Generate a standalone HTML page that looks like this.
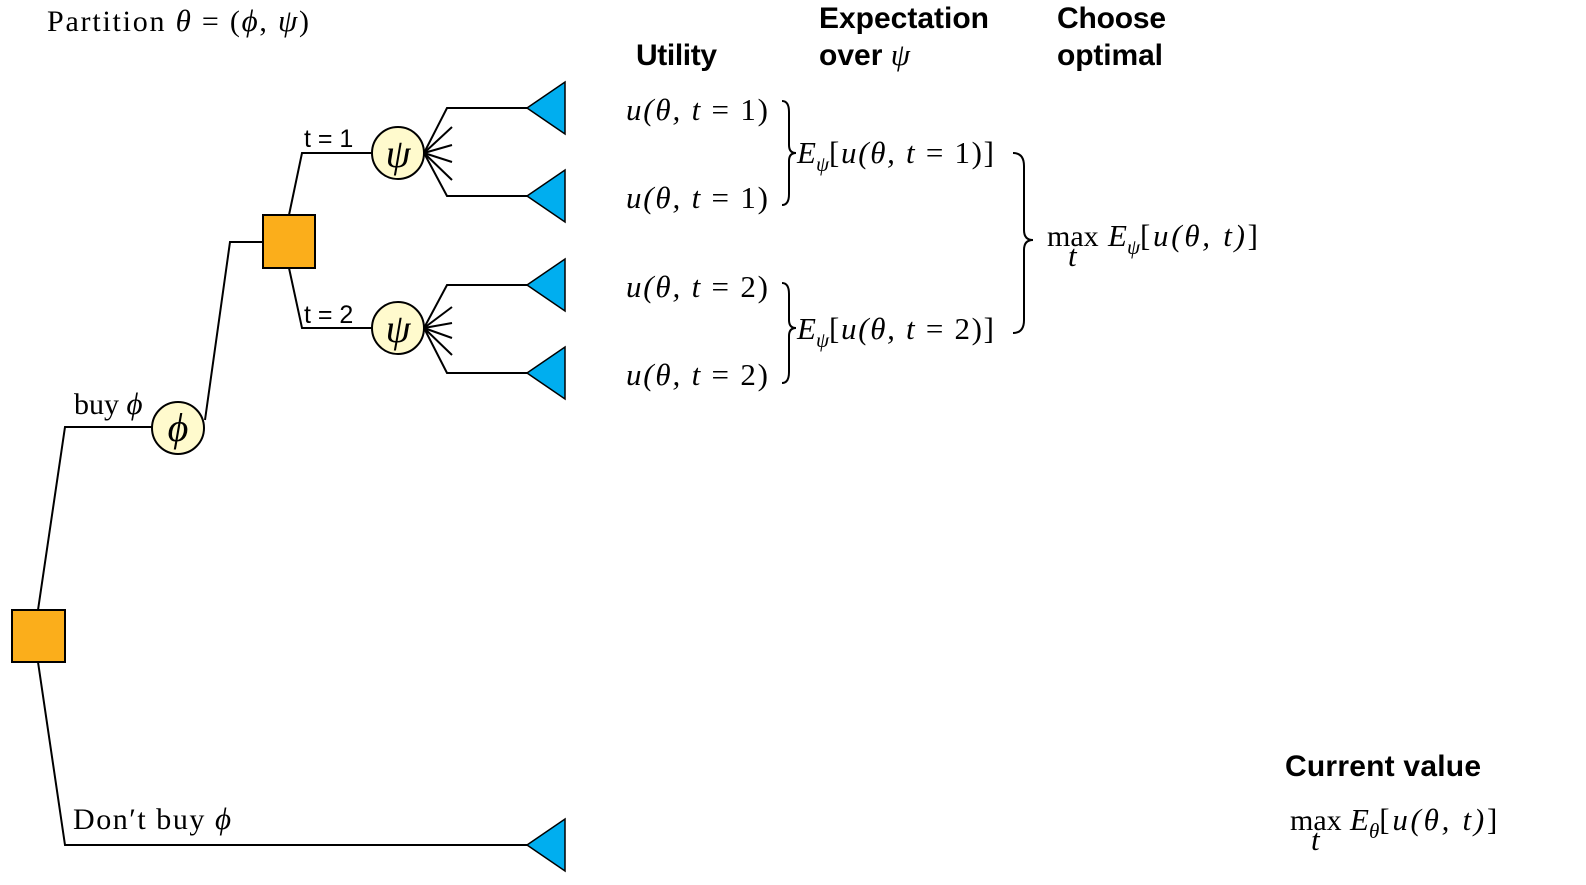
<!DOCTYPE html>
<html><head><meta charset="utf-8"><style>
html,body{margin:0;padding:0;background:#fff;}
svg{display:block}
.m{font-family:"Liberation Serif",serif;font-style:italic;font-size:31px;fill:#000}
.r{font-family:"Liberation Serif",serif;font-size:30px;fill:#000}
.h{font-family:"Liberation Sans",sans-serif;font-weight:bold;font-size:30px;fill:#000}
.s{font-family:"Liberation Sans",sans-serif;font-size:25px;fill:#000}
</style></head><body>
<svg width="1586" height="885" viewBox="0 0 1586 885">
<g stroke="#000" stroke-width="2" fill="none">
<polyline points="38,610 65,427 155,427"/>
<polyline points="38,662 65,845 527,845"/>
<polyline points="205,420 230,242 263,242"/>
<polyline points="289,215 302,153 372,153"/>
<polyline points="289,268 302,328 372,328"/>
<polyline points="424,153 447,108 527,108"/>
<polyline points="424,153 447,196 527,196"/>
<line x1="424" y1="153" x2="452" y2="127"/><line x1="424" y1="153" x2="452" y2="145"/>
<line x1="424" y1="153" x2="452" y2="162"/><line x1="424" y1="153" x2="452" y2="180"/>
<polyline points="424,328 447,285 527,285"/>
<polyline points="424,328 447,373 527,373"/>
<line x1="424" y1="328" x2="452" y2="307"/><line x1="424" y1="328" x2="452" y2="323"/>
<line x1="424" y1="328" x2="452" y2="338"/><line x1="424" y1="328" x2="452" y2="355"/>
</g>
<rect x="12" y="610" width="53" height="52" fill="#FBAE1B" stroke="#000" stroke-width="2"/>
<rect x="263" y="215" width="52" height="53" fill="#FBAE1B" stroke="#000" stroke-width="2"/>
<circle cx="178" cy="428" r="26" fill="#FFFACD" stroke="#000" stroke-width="2"/>
<text x="178" y="441" class="m" text-anchor="middle" style="font-size:40px">ϕ</text>
<circle cx="398" cy="153" r="26" fill="#FFFACD" stroke="#000" stroke-width="2"/>
<text x="398" y="167" class="m" text-anchor="middle" style="font-size:40px">ψ</text>
<circle cx="398" cy="328" r="26" fill="#FFFACD" stroke="#000" stroke-width="2"/>
<text x="398" y="342" class="m" text-anchor="middle" style="font-size:40px">ψ</text>
<g fill="#00AEEF" stroke="#000" stroke-width="1.5">
<polygon points="527,108 565,82 565,134"/>
<polygon points="527,196 565,170 565,222"/>
<polygon points="527,285 565,259 565,311"/>
<polygon points="527,373 565,347 565,399"/>
<polygon points="527,845 565,819 565,871"/>
</g>
<text x="47" y="31" class="r" textLength="262" lengthAdjust="spacing">Partition <tspan class="m">θ</tspan> = (<tspan class="m">ϕ</tspan>, <tspan class="m">ψ</tspan>)</text>
<text x="74" y="414" class="r">buy <tspan class="m">ϕ</tspan></text>
<text x="73" y="829" class="r" textLength="158" lengthAdjust="spacing">Don′t buy <tspan class="m">ϕ</tspan></text>
<text x="304" y="147" class="s">t = 1</text>
<text x="304" y="323" class="s">t = 2</text>
<text x="636" y="65" class="h" textLength="81">Utility</text>
<text x="819" y="28" class="h" textLength="170">Expectation</text>
<text x="819" y="65" class="h">over <tspan class="m" font-weight="normal">ψ</tspan></text>
<text x="1057" y="28" class="h" textLength="109">Choose</text>
<text x="1057" y="65" class="h" textLength="106">optimal</text>
<text x="1285" y="776" class="h" textLength="196">Current value</text>
<g>
<text x="626" y="120" class="m" textLength="142" lengthAdjust="spacing">u(θ, t <tspan font-style="normal">= 1)</tspan></text>
<text x="626" y="208" class="m" textLength="142" lengthAdjust="spacing">u(θ, t <tspan font-style="normal">= 1)</tspan></text>
<text x="626" y="297" class="m" textLength="142" lengthAdjust="spacing">u(θ, t <tspan font-style="normal">= 2)</tspan></text>
<text x="626" y="385" class="m" textLength="142" lengthAdjust="spacing">u(θ, t <tspan font-style="normal">= 2)</tspan></text>
</g>
<text x="797" y="163" class="m">E<tspan font-size="21" dy="8">ψ</tspan><tspan dy="-8" font-style="normal" textLength="165" lengthAdjust="spacing">[<tspan font-style="italic">u(θ, t</tspan> = 1)]</tspan></text>
<text x="797" y="339" class="m">E<tspan font-size="21" dy="8">ψ</tspan><tspan dy="-8" font-style="normal" textLength="165" lengthAdjust="spacing">[<tspan font-style="italic">u(θ, t</tspan> = 2)]</tspan></text>
<g>
<text x="1047" y="246" class="r">max</text><text x="1068" y="266" class="m" font-size="21">t</text>
<text x="1108" y="246" class="m">E<tspan font-size="21" dy="8">ψ</tspan><tspan dy="-8" font-style="normal" textLength="118" lengthAdjust="spacing">[<tspan font-style="italic">u(θ, t)</tspan>]</tspan></text>
</g>
<g>
<text x="1290" y="830" class="r">max</text><text x="1311" y="850" class="m" font-size="21">t</text>
<text x="1350" y="830" class="m">E<tspan font-size="21" dy="8">θ</tspan><tspan dy="-8" font-style="normal" textLength="118" lengthAdjust="spacing">[<tspan font-style="italic">u(θ, t)</tspan>]</tspan></text>
</g>
<g stroke="#000" stroke-width="2" fill="none">
<path d="M782,101 Q789,101 789,112 L789,145 Q789,153 796,153 Q789,153 789,161 L789,194 Q789,205 782,205"/>
<path d="M782,283 Q789,283 789,294 L789,320 Q789,328 796,328 Q789,328 789,336 L789,372 Q789,383 782,383"/>
<path d="M1013,153 Q1024,153 1024,166 L1024,230 Q1024,240 1033,240 Q1024,240 1024,250 L1024,320 Q1024,333 1013,333"/>
</g>
</svg>
</body></html>
